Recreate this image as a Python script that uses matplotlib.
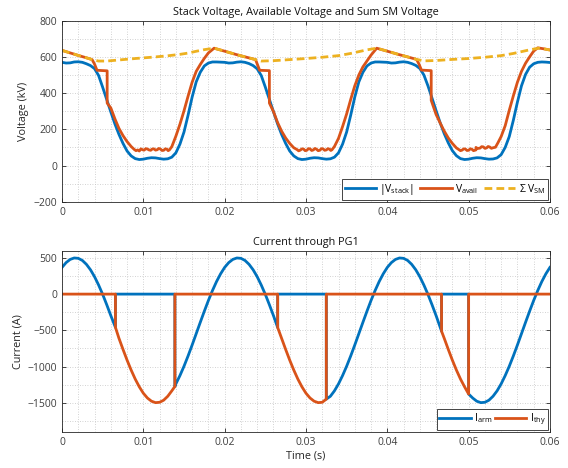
import matplotlib
matplotlib.use('Agg')
import matplotlib.pyplot as plt
import numpy as np
from matplotlib.ticker import MultipleLocator, FuncFormatter

# time grid of the stack voltage trace (ms)
t_stack = np.arange(0, 60.5, 0.5)
v_stack = [570, 566, 567, 572, 573, 570, 562, 552, 535, 497,
           432, 364, 296, 230, 172, 122, 80, 53, 38, 33,
           35, 40, 43, 42, 38, 35, 37, 46, 70, 118,
           185, 278, 378, 462, 515, 550, 566, 572, 572, 571,
           570, 566, 567, 571, 573, 570, 563, 552, 534, 497,
           433, 365, 297, 231, 172, 122, 80, 53, 38, 33,
           35, 40, 43, 42, 38, 35, 37, 46, 70, 118,
           185, 278, 378, 462, 515, 550, 566, 572, 572, 571,
           570, 566, 567, 571, 573, 570, 563, 553, 536, 500,
           440, 372, 303, 236, 176, 125, 82, 54, 38, 33,
           35, 40, 43, 42, 38, 35, 36, 42, 60, 100,
           160, 250, 350, 440, 503, 543, 562, 570, 572, 571,
           569]

# (ms, kV)
v_avail = [(0, 636), (1, 622), (2, 608), (3, 595), (3.7, 585), (4.0, 560), (4.3, 526),
           (5.55, 523), (5.55, 345), (6.0, 318), (6.5, 258), (7.0, 205), (7.5, 165),
           (8.0, 132), (8.5, 105), (8.9, 88), (9.1, 82), (9.3, 86), (9.5, 80), (9.7, 92),
           (9.9, 87), (10.1, 85), (10.3, 93), (10.5, 91), (10.7, 86), (10.9, 84), (11.1, 91),
           (11.3, 92), (11.5, 85), (11.7, 87), (11.9, 94), (12.1, 91), (12.3, 83), (12.5, 84),
           (12.7, 92), (12.9, 90), (13.05, 82), (13.2, 86),
           (13.5, 104), (14.0, 162), (14.5, 228), (15.0, 302), (15.5, 383), (16.0, 460),
           (16.5, 520), (17.0, 558), (17.5, 592), (18.0, 622), (18.7, 648), (19.5, 638),
           (20.5, 625), (21.5, 612), (22.5, 600), (23.8, 585), (24.0, 562), (24.3, 526),
           (25.5, 524), (25.5, 345), (26.0, 298), (26.5, 238), (27.0, 190), (27.5, 152),
           (28.0, 122), (28.5, 98), (28.9, 88), (29.1, 81), (29.3, 85), (29.5, 92), (29.7, 91),
           (29.9, 82), (30.1, 84), (30.3, 93), (30.5, 92), (30.7, 83), (30.9, 86), (31.1, 94),
           (31.3, 90), (31.5, 82), (31.7, 84), (31.9, 93), (32.1, 92), (32.3, 84), (32.5, 86),
           (32.7, 93), (32.9, 90), (33.05, 83), (33.2, 87),
           (33.5, 105), (34.0, 150), (34.5, 215), (35.0, 285), (35.5, 365), (36.0, 440),
           (36.5, 500), (37.0, 545), (37.5, 578), (38.0, 610), (38.7, 648), (39.5, 638),
           (40.5, 625), (41.5, 612), (42.5, 600), (43.6, 586), (43.9, 560), (44.2, 527),
           (45.4, 524), (45.4, 360), (46.0, 282), (46.5, 235), (47.0, 190), (47.5, 152),
           (48.0, 122), (48.5, 97), (48.8, 88), (49.0, 82), (49.2, 85), (49.4, 92), (49.6, 91),
           (49.8, 83), (50.0, 84), (50.2, 92), (50.4, 90), (50.6, 82), (50.9, 86),
           (50.9, 100), (51.1, 94), (51.4, 96), (51.6, 104), (51.8, 103), (52.0, 95),
           (52.2, 97), (52.4, 105), (52.6, 102), (52.8, 95), (53.0, 98), (53.3, 101),
           (53.6, 125), (54.0, 160), (54.5, 220), (55.0, 305),
           (55.5, 385), (56.0, 460), (56.5, 520), (57.0, 565), (57.5, 600), (58.0, 632),
           (58.5, 650), (59.2, 645), (60.0, 638)]

v_sm = [(0, 636), (1, 622), (2, 608), (3, 595), (3.7, 585), (4.5, 577), (5.5, 577), (7, 583),
        (9, 591), (11, 598), (13, 606), (14.5, 614), (15.5, 621), (16.5, 631), (17.5, 640),
        (18.7, 648), (19.5, 638), (20.5, 625), (21.5, 612), (22.5, 600), (23.8, 585),
        (24.5, 577), (26, 579), (28, 585), (30, 591), (32, 598), (34, 607), (35.5, 619),
        (36.5, 629), (37.5, 639), (38.7, 648), (39.5, 638), (40.5, 625), (41.5, 612),
        (42.5, 600), (43.6, 586), (44.5, 578), (46, 580), (48, 586), (50, 591), (52, 598),
        (54, 607), (55.5, 619), (56.5, 629), (57.5, 639), (58.6, 648), (59.2, 645), (60, 638)]

# (ms, A)
i_arm = [(0, 369), (0.5, 435), (1, 479), (1.5, 499), (2, 494), (2.5, 465), (3, 411),
         (3.5, 336), (4, 240), (4.5, 125), (5, -4), (5.5, -147), (6, -297), (6.57, -460),
         (6.57, 0), (13.88, 0), (13.88, -1275), (14, -1240), (14.5, -1125), (15, -996),
         (15.5, -854), (16, -703), (16.5, -547), (17, -390), (17.5, -236), (18, -88),
         (18.5, 49), (19, 173), (19.5, 280),
         (20, 369), (20.5, 435), (21, 479), (21.5, 499), (22, 494), (22.5, 465), (23, 411),
         (23.5, 336), (24, 240), (24.5, 125), (25, -4), (25.5, -147), (26, -297),
         (26.52, -462), (26.52, 0), (32.5, 0), (32.5, -1450), (33, -1411), (33.5, -1336),
         (34, -1240), (34.5, -1125), (35, -996), (35.5, -854), (36, -703), (36.5, -547),
         (37, -390), (37.5, -236), (38, -88), (38.5, 49), (39, 173), (39.5, 280),
         (40, 369), (40.5, 435), (41, 479), (41.5, 499), (42, 494), (42.5, 465), (43, 411),
         (43.5, 336), (44, 240), (44.5, 125), (45, -4), (45.5, -147), (46, -297),
         (46.67, -512), (46.67, 0), (50.0, 0), (50.0, -1380), (50.5, -1435), (51, -1479),
         (51.5, -1499), (52, -1494), (52.5, -1465), (53, -1411), (53.5, -1336), (54, -1240),
         (54.5, -1125), (55, -996), (55.5, -854), (56, -703), (56.5, -547), (57, -390),
         (57.5, -236), (58, -88), (58.5, 49), (59, 173), (59.5, 280), (60, 369)]

i_thy = [(0, 0), (6.57, 0), (6.57, -460), (7, -610), (7.5, -764), (8, -912), (8.5, -1049),
         (9, -1173), (9.5, -1280), (10, -1369), (10.5, -1435), (11, -1479), (11.5, -1499),
         (12, -1494), (12.5, -1465), (13, -1411), (13.5, -1336), (13.88, -1275), (13.88, 0),
         (26.52, 0), (26.52, -462), (27, -610), (27.5, -764), (28, -912), (28.5, -1049),
         (29, -1173), (29.5, -1280), (30, -1369), (30.5, -1435), (31, -1479), (31.5, -1499),
         (32, -1494), (32.5, -1450), (32.5, 0), (46.67, 0), (46.67, -512), (47, -610),
         (47.5, -764), (48, -912), (48.5, -1049), (49, -1173), (49.5, -1280), (50.0, -1380),
         (50.0, 0), (60, 0)]

blue = '#0072BD'
orange = '#D95319'
yellow = '#EDB120'
dark = '#262626'

plt.rcParams['font.family'] = ['Open Sans', 'DejaVu Sans']
plt.rcParams['mathtext.fontset'] = 'custom'
plt.rcParams['mathtext.rm'] = 'Open Sans'
plt.rcParams['mathtext.it'] = 'Open Sans'


def xy(pts):
    a = np.array(pts, dtype=float)
    return a[:, 0] / 1000.0, a[:, 1]


def style(ax):
    ax.set_xlim(0, 0.06)
    ax.xaxis.set_major_locator(MultipleLocator(0.01))
    ax.xaxis.set_minor_locator(MultipleLocator(0.002))
    ax.xaxis.set_major_formatter(FuncFormatter(lambda v, p: '0' if abs(v) < 1e-9 else '%.2f' % v))
    ax.grid(which='both', color='#c4c4c4', linestyle=(0, (1, 2)), linewidth=0.6)
    ax.set_axisbelow(True)
    ax.tick_params(which='major', direction='in', length=3, top=True, right=True,
                   colors=dark, labelcolor='#404040', labelsize=7.5, width=0.6)
    ax.tick_params(which='minor', length=0)
    for s in ax.spines.values():
        s.set_color(dark)
        s.set_linewidth(0.6)


fig = plt.figure(figsize=(5.68, 4.68), dpi=100)
ax1 = fig.add_axes([0.1092, 0.569, 0.859, 0.3868])
ax2 = fig.add_axes([0.1092, 0.0776, 0.859, 0.3868])

# top: voltages
ax1.plot(t_stack / 1000.0, v_stack, color=blue, lw=2, label=r'|V$_{\rm stack}$|')
tx, vy = xy(v_avail)
ax1.plot(tx, vy, color=orange, lw=2, label=r'V$_{\rm avail}$')
tx, vy = xy(v_sm)
ax1.plot(tx, vy, color=yellow, lw=2, dashes=(2.8, 1.5), label=r'Σ V$_{\rm SM}$')
style(ax1)
ax1.set_ylim(-200, 800)
ax1.yaxis.set_major_locator(MultipleLocator(200))
ax1.yaxis.set_minor_locator(MultipleLocator(100))
ax1.set_ylabel('Voltage (kV)', fontsize=7.8, color=dark, labelpad=3)
ax1.set_title('Stack Voltage, Available Voltage and Sum SM Voltage', fontsize=7.8, color='#111111', pad=4)
ax1.legend(loc='lower right', ncol=3, fancybox=False, edgecolor=dark, framealpha=1,
           fontsize=7.5, handlelength=3.0, columnspacing=0.6, handletextpad=0.3,
           borderaxespad=0.2, borderpad=0.25).get_frame().set_linewidth(0.6)

# bottom: currents
tx, iy = xy(i_arm)
ax2.plot(tx, iy, color=blue, lw=2, label=r'I$_{\rm arm}$')
tx, iy = xy(i_thy)
ax2.plot(tx, iy, color=orange, lw=2, label=r'I$_{\rm thy}$')
style(ax2)
ax2.set_ylim(-1900, 600)
ax2.yaxis.set_major_locator(MultipleLocator(500))
ax2.yaxis.set_minor_locator(MultipleLocator(250))
ax2.set_ylabel('Current (A)', fontsize=7.8, color=dark, labelpad=3)
ax2.set_xlabel('Time (s)', fontsize=7.8, color=dark, labelpad=2)
ax2.set_title('Current through PG1', fontsize=7.8, color='#111111', pad=4)
ax2.legend(loc='lower right', ncol=2, fancybox=False, edgecolor=dark, framealpha=1,
           fontsize=7.5, handlelength=3.0, columnspacing=0.3, handletextpad=0.3,
           borderaxespad=0.2, borderpad=0.25).get_frame().set_linewidth(0.6)

fig.savefig('out.png', dpi=100)
